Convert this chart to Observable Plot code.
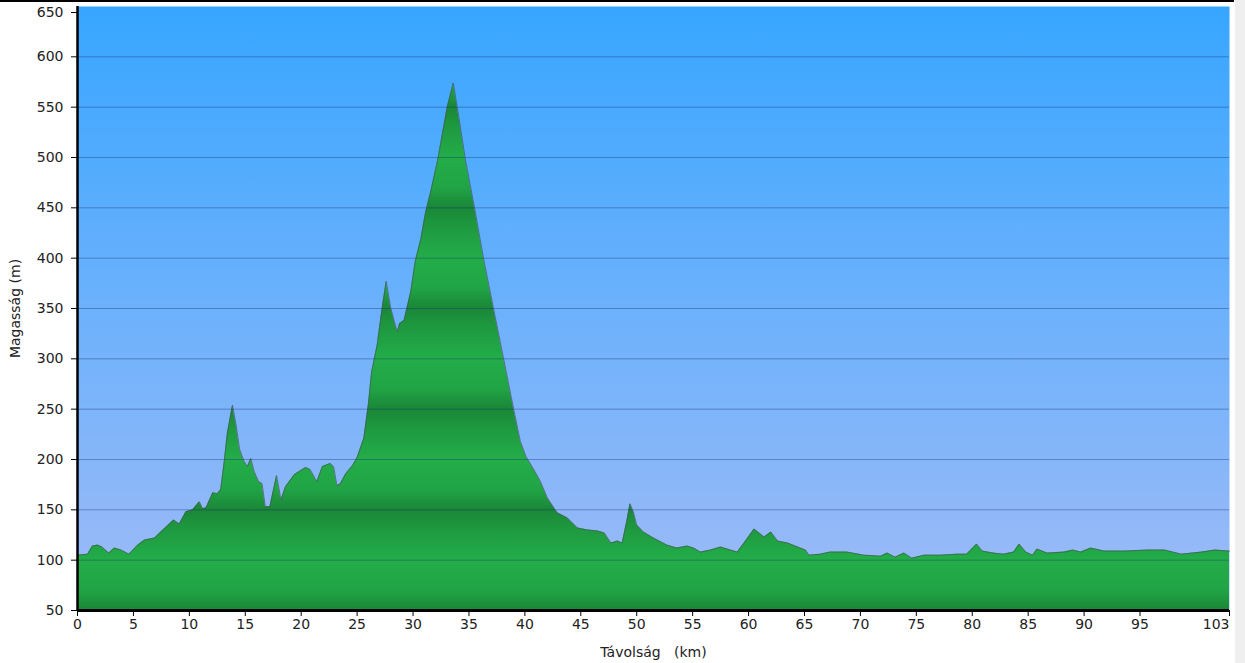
<!DOCTYPE html>
<html><head><meta charset="utf-8">
<script src="https://cdn.jsdelivr.net/npm/d3@7"></script>
<script src="https://cdn.jsdelivr.net/npm/@observablehq/plot@0.6"></script>
<style>
html,body{margin:0;padding:0;background:#fff;width:1245px;height:663px;overflow:hidden}
#chart{position:absolute;left:0;top:0}
#topline{position:absolute;left:0;top:0;width:1234px;height:2px;background:#000}
#side{position:absolute;left:1235px;top:0;width:10px;height:663px;background:#efefef}
svg text{white-space:pre}
</style></head><body>
<div id="chart"></div><div id="topline"></div><div id="side"></div>
<script>
// distance along the route (km)
const km = [0,0.9,1.34,1.8,2.2,2.8,3.3,3.9,4.6,5.4,6.0,6.9,7.45,8.6,9.1,9.7,10.3,10.9,11.2,11.5,12.1,12.5,12.8,13.1,13.4,13.86,14.2,14.5,14.9,15.2,15.5,15.8,16.2,16.5,16.8,17.2,17.8,18.2,18.6,19.4,20.4,20.8,21.4,21.9,22.6,22.9,23.2,23.5,24.0,24.6,25.0,25.6,26.0,26.3,26.8,27.2,27.6,28.0,28.4,28.6,28.8,29.2,29.8,30.2,30.7,31.1,31.6,32.0,32.2,33.06,33.6,34.1,34.7,35.5,36.3,37.2,38.1,39.0,39.6,40.1,40.8,41.4,42.0,42.9,43.8,44.7,45.6,46.5,47.1,47.7,48.3,48.7,49.1,49.4,49.7,50.0,50.6,51.5,52.7,53.6,54.5,55.1,55.7,56.6,57.5,58.4,59.0,59.6,60.5,61.4,62.0,62.6,63.5,64.4,65.1,65.4,66.4,67.3,68.8,70.3,71.8,72.4,73.1,73.9,74.6,75.7,77.2,78.6,79.5,80.4,80.9,81.9,82.8,83.7,84.2,84.8,85.4,85.8,86.7,88.2,89.0,89.7,90.6,91.8,93.6,95.7,97.2,98.7,100.5,101.7,103];
// elevation (m)
const elev = [105,106,114,115,113,107,112,110,106,115,120,122,128,140,136,148,150,158,151,152,167,166,170,196,226,254,233,210,198,193,201,188,178,176,153,153,184,160,173,185,192,190,178,193,196,193,174,176,186,194,202,221,254,287,314,347,377,351,334,327,335,338,367,397,419,444,467,487,497,550,574,540,497,450,400,350,300,250,218,203,190,178,162,147,142,132,130,129,127,117,119,117,138,156,148,135,128,122,115,112,114,112,108,110,113,110,108,117,131,123,128,119,117,113,110,105,106,108,108,105,104,107,103,107,102,105,105,106,106,116,109,107,106,108,116,108,105,111,107,108,110,108,112,109,109,110,110,106,108,110,109];
const xTicks = [0,5,10,15,20,25,30,35,40,45,50,55,60,65,70,75,80,85,90,95];
const xEndTick = [103];
const yTicks = [50,100,150,200,250,300,350,400,450,500,550,600];
const yTopTick = [650];
const gridLines = [100,150,200,250,300,350,400,450,500,550,600];

const data = km.map((k, i) => ({km: k, elev: elev[i]}));

function gradients(index, scales) {
  const y = scales.y;
  const defs = d3.create("svg:defs");
  const sky = defs.append("linearGradient").attr("id", "skyGrad")
    .attr("gradientUnits", "userSpaceOnUse")
    .attr("x1", 0).attr("x2", 0).attr("y1", y(650)).attr("y2", y(50));
  sky.append("stop").attr("offset", 0).attr("stop-color", "#37a6ff");
  sky.append("stop").attr("offset", 0.5).attr("stop-color", "#6cb1fc");
  sky.append("stop").attr("offset", 1).attr("stop-color", "#a0bbf6");
  const g = defs.append("linearGradient").attr("id", "greenGrad")
    .attr("gradientUnits", "userSpaceOnUse").attr("spreadMethod", "repeat")
    .attr("x1", 0).attr("x2", 0).attr("y1", y(500)).attr("y2", y(400));
  [[0, "#23ad49"], [0.3, "#21a445"], [0.5, "#1a8738"], [0.68, "#1e983f"], [1, "#23ad49"]]
    .forEach(([o, c]) => g.append("stop").attr("offset", o).attr("stop-color", c));
  return defs.node();
}

const tickStyle = {fontSize: 14, fill: "#222"};

const chart = Plot.plot({
  width: 1245, height: 663,
  marginLeft: 77, marginRight: 16, marginTop: 6, marginBottom: 53,
  style: {fontFamily: "'DejaVu Sans', Verdana, sans-serif", fontSize: "14px", color: "#000", background: "transparent", overflow: "visible"},
  x: {domain: [0, 103]},
  y: {domain: [50, 650]},
  marks: [
    gradients,
    Plot.frame({fill: "url(#skyGrad)", stroke: null}),
    Plot.areaY(data, {x: "km", y1: 50, y2: "elev", fill: "url(#greenGrad)"}),
    Plot.lineY(data, {x: "km", y: "elev", stroke: "#4a5560", strokeWidth: 1, strokeOpacity: 0.7}),
    Plot.ruleY(gridLines, {stroke: "#14306e", strokeOpacity: 0.38, strokeWidth: 1}),
    Plot.ruleX([0], {stroke: "#000", strokeWidth: 2.5}),
    Plot.ruleY([50], {stroke: "#000", strokeWidth: 3}),
    Plot.axisY({ticks: yTicks, tickSize: 6, tickPadding: 8, ...tickStyle,
      label: "Magasság (m)", labelAnchor: "center", labelArrow: "none", labelOffset: 67}),
    Plot.axisY({ticks: yTopTick, tickSize: 6, tickPadding: 8, ...tickStyle, dy: 6, label: null}),
    Plot.axisX({ticks: xTicks, tickSize: 6, tickPadding: 3, ...tickStyle,
      label: "Távolság   (km)", labelAnchor: "center", labelArrow: "none", labelOffset: 46}),
    Plot.axisX({ticks: xEndTick, tickSize: 6, tickPadding: 3, ...tickStyle, textAnchor: "end", dx: 0, label: null})
  ]
});
document.getElementById("chart").appendChild(chart);
</script>
</body></html>
